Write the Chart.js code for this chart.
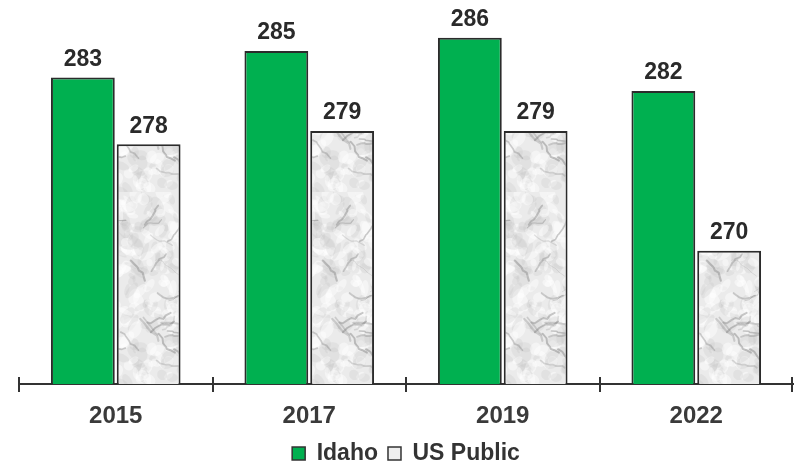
<!DOCTYPE html>
<html>
<head>
<meta charset="utf-8">
<script src="https://cdn.jsdelivr.net/npm/chart.js@4"></script>
<style>
html,body{margin:0;padding:0;background:#fff;}
#wrap{width:794px;height:466px;position:relative;}
</style>
</head>
<body>
<div id="wrap"><canvas id="c" width="794" height="466"></canvas></div>
<script>
const categories = ["2015", "2017", "2019", "2022"];
const idahoValues = [283, 285, 286, 282];
const usPublicValues = [278, 279, 279, 270];
const seriesNames = ["Idaho", "US Public"];

// marble-like texture pattern (styling only)
function makeMarble() {
  const pc = document.createElement('canvas');
  pc.width = 96; pc.height = 192;
  const g = pc.getContext('2d');
  g.fillStyle = '#ebebeb';
  g.fillRect(0, 0, pc.width, pc.height);
  let s = 23;
  const rnd = () => { s = (s * 16807) % 2147483647; return (s - 1) / 2147483646; };
  for (let i = 0; i < 260; i++) {
    g.fillStyle = rnd() < 0.55 ? 'rgba(255,255,255,0.45)' : 'rgba(190,190,190,0.22)';
    const x = rnd() * 96, y = rnd() * 192;
    g.beginPath(); g.ellipse(x, y, 3 + rnd() * 7, 2 + rnd() * 4, rnd() * 3, 0, Math.PI * 2); g.fill();
  }
  for (let v = 0; v < 30; v++) {
    let x = rnd() * 96, y = rnd() * 192;
    g.strokeStyle = 'rgba(130,130,130,' + (0.18 + rnd() * 0.3) + ')';
    g.lineWidth = 0.8 + rnd() * 1.4;
    g.lineCap = 'round';
    g.beginPath(); g.moveTo(x, y);
    const ang = (rnd() < 0.5 ? -0.7 : 0.5) + (rnd() - 0.5) * 0.9;
    for (let k = 0; k < 6; k++) {
      x += Math.cos(ang) * 4 + (rnd() - 0.5) * 5;
      y += Math.sin(ang) * 4 + (rnd() - 0.5) * 5;
      g.lineTo(x, y);
    }
    g.stroke();
  }
  return pc;
}
const ctx = document.getElementById('c').getContext('2d');
const marble = ctx.createPattern(makeMarble(), 'repeat');

const valueLabels = {
  id: 'valueLabels',
  afterDatasetsDraw(chart) {
    const c = chart.ctx;
    c.save();
    c.font = 'bold 23px "Liberation Sans", Arial, sans-serif';
    c.fillStyle = '#2a2a2a';
    c.textAlign = 'center';
    c.textBaseline = 'middle';
    chart.data.datasets.forEach((ds, di) => {
      chart.getDatasetMeta(di).data.forEach((bar, i) => {
        c.fillText(String(ds.data[i]), bar.x, bar.y - 18);
      });
    });
    c.restore();
  }
};

const axisTicks = {
  id: 'axisTicks',
  afterDraw(chart) {
    const c = chart.ctx, a = chart.chartArea;
    const n = chart.data.labels.length;
    const w = (a.right - a.left) / n;
    c.save();
    c.strokeStyle = '#333';
    c.lineWidth = 2;
    for (let i = 0; i <= n; i++) {
      let x = Math.round(a.left + i * w);
      if (i === n) x -= 1;
      c.beginPath(); c.moveTo(x, a.bottom - 7); c.lineTo(x, a.bottom + 8); c.stroke();
    }
    c.restore();
  }
};

new Chart(ctx, {
  type: 'bar',
  data: {
    labels: categories,
    datasets: [
      { label: seriesNames[0], data: idahoValues, backgroundColor: '#00b050', borderColor: '#2b2b2b', borderWidth: 2, borderSkipped: false, categoryPercentage: 0.68, barPercentage: 0.97 },
      { label: seriesNames[1], data: usPublicValues, backgroundColor: marble, borderColor: '#2b2b2b', borderWidth: 2, borderSkipped: false, categoryPercentage: 0.68, barPercentage: 0.97 }
    ]
  },
  options: {
    responsive: false,
    animation: false,
    devicePixelRatio: 1,
    layout: { padding: { top: 11, left: 19, right: 1, bottom: -9 } },
    plugins: {
      tooltip: { enabled: false },
      legend: {
        position: 'bottom',
        labels: {
          boxWidth: 13, boxHeight: 13, padding: 10,
          color: '#333333',
          font: { family: '"Liberation Sans", Arial, sans-serif', size: 23, weight: 'bold' },
          generateLabels(chart) {
            return chart.data.datasets.map((ds, i) => ({
              text: ds.label,
              fillStyle: i === 0 ? '#00b050' : '#eeeeee',
              strokeStyle: '#333',
              lineWidth: 1.5,
              datasetIndex: i,
              fontColor: '#333333'
            }));
          }
        }
      }
    },
    scales: {
      x: {
        grid: { display: true, drawOnChartArea: false, drawTicks: false, offset: true },
        border: { display: true, color: '#333', width: 2 },
        ticks: {
          color: '#3a3a3a', padding: 18,
          font: { family: '"Liberation Sans", Arial, sans-serif', size: 24, weight: 'bold' }
        },
        afterFit(scale) { scale.height = 48; }
      },
      y: {
        display: false,
        min: 260, max: 288
      }
    }
  },
  plugins: [valueLabels, axisTicks]
});
</script>
</body>
</html>
